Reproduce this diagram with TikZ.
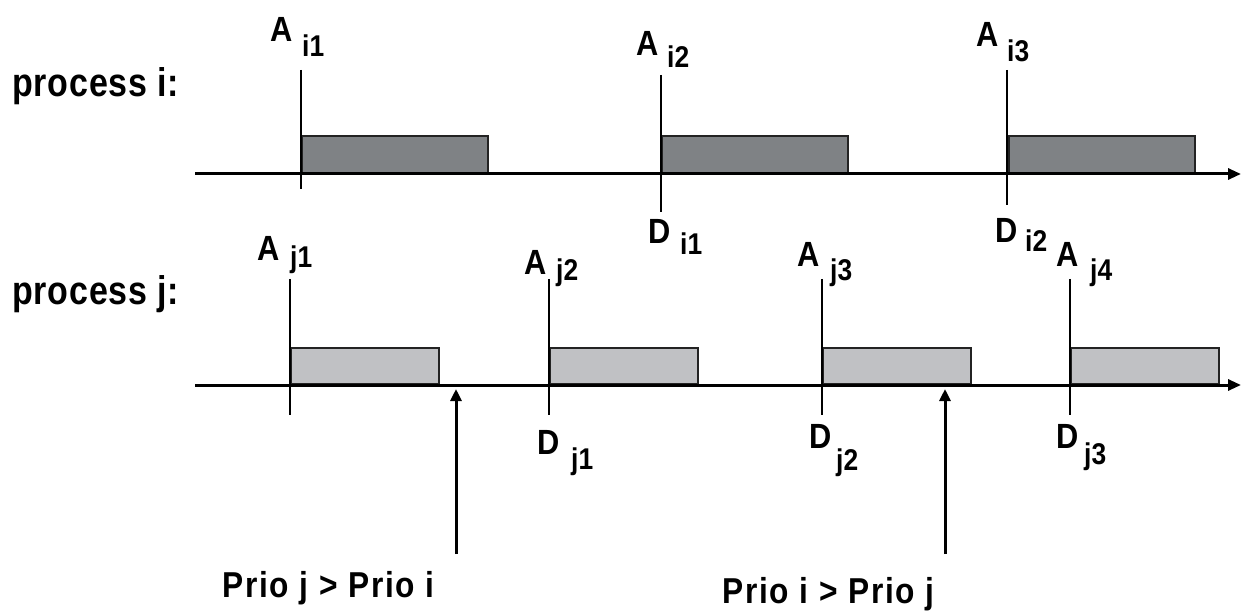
\documentclass[tikz,border=0pt]{standalone}
\usepackage{fontspec}
\setmainfont{Liberation Sans}
\newfontfamily\procfont{Liberation Sans}[FakeStretch=0.85,LetterSpace=2]
\newfontfamily\priofont{Liberation Sans}[FakeStretch=0.88,LetterSpace=5]
\newfontfamily\labfont{Liberation Sans}[FakeStretch=0.88]
\usetikzlibrary{arrows.meta}
\definecolor{darkbox}{RGB}{127,130,133}
\definecolor{lightbox}{RGB}{192,193,196}
\definecolor{edge}{RGB}{35,35,35}
\tikzset{
  timeaxis/.style={line width=3pt, draw=black, -{Triangle[length=13pt,width=11pt]}},
  tickline/.style={line width=2.5pt, draw=black},
  jobi/.style={draw=edge, line width=2pt, fill=darkbox, anchor=south west, minimum width=186pt, minimum height=37pt, inner sep=0pt},
  jobj/.style={draw=edge, line width=2pt, fill=lightbox, anchor=south west, minimum width=148pt, minimum height=36pt, inner sep=0pt},
  lab/.style={anchor=base west, inner sep=0pt, font=\labfont\bfseries\fontsize{35}{35}\selectfont},
  labsub/.style={anchor=base west, inner sep=0pt, font=\labfont\bfseries\fontsize{30}{30}\selectfont},
  proc/.style={anchor=base west, inner sep=0pt, font=\procfont\bfseries\fontsize{40}{40}\selectfont},
  prio/.style={anchor=base west, inner sep=0pt, font=\priofont\bfseries\fontsize{36}{36}\selectfont},
  prioarrow/.style={line width=3pt, draw=black, -{Triangle[length=12pt,width=11pt]}}
}
\begin{document}
\begin{tikzpicture}[x=1pt,y=-1pt]
\useasboundingbox (0,0) rectangle (1242,612);
% process labels
\node[proc] (pi) at (12,97) {process i:};
\node[proc] (pj) at (12,305) {process j:};
% jobs of process i
\node[jobi] (bi1) at (301,174) {};
\node[jobi] (bi2) at (661,174) {};
\node[jobi] (bi3) at (1008,174) {};
% jobs of process j
\node[jobj] (bj1) at (290,385) {};
\node[jobj] (bj2) at (549,385) {};
\node[jobj] (bj3) at (822,385) {};
\node[jobj] (bj4) at (1070,385) {};
% axes
\coordinate (ia0) at (195,174); \coordinate (ia1) at (1241,174);
\coordinate (ja0) at (195,385); \coordinate (ja1) at (1241,385);
\draw[timeaxis] (ia0) -- (ia1);
\draw[timeaxis] (ja0) -- (ja1);
% ticks process i
\coordinate (ti1a) at (301,70);  \coordinate (ti1b) at (301,189);
\coordinate (ti2a) at (661,75);  \coordinate (ti2b) at (661,212);
\coordinate (ti3a) at (1007,70); \coordinate (ti3b) at (1007,205);
\draw[tickline] (ti1a) -- (ti1b);
\draw[tickline] (ti2a) -- (ti2b);
\draw[tickline] (ti3a) -- (ti3b);
% ticks process j
\coordinate (tj1a) at (290,279);  \coordinate (tj1b) at (290,415);
\coordinate (tj2a) at (549,279);  \coordinate (tj2b) at (549,415);
\coordinate (tj3a) at (822,279);  \coordinate (tj3b) at (822,415);
\coordinate (tj4a) at (1070,279); \coordinate (tj4b) at (1070,415);
\draw[tickline] (tj1a) -- (tj1b);
\draw[tickline] (tj2a) -- (tj2b);
\draw[tickline] (tj3a) -- (tj3b);
\draw[tickline] (tj4a) -- (tj4b);
% labels process i
\node[lab] (ai1) at (270,42) {A}; \node[labsub] (ai1s) at (302,57) {i1};
\node[lab] (ai2) at (636,56) {A}; \node[labsub] (ai2s) at (667,68) {i2};
\node[lab] (ai3) at (976,47) {A}; \node[labsub] (ai3s) at (1007,62) {i3};
\node[lab] (di1) at (648,244) {D}; \node[labsub] (di1s) at (680,255) {i1};
\node[lab] (di2) at (995,243) {D}; \node[labsub] (di2s) at (1025,252) {i2};
% labels process j
\node[lab] (aj1) at (257,261) {A}; \node[labsub] (aj1s) at (290,268) {j1};
\node[lab] (aj2) at (524,275) {A}; \node[labsub] (aj2s) at (556,281) {j2};
\node[lab] (aj3) at (797,267) {A}; \node[labsub] (aj3s) at (830,280) {j3};
\node[lab] (aj4) at (1056,267) {A}; \node[labsub] (aj4s) at (1090,280) {j4};
\node[lab] (dj1) at (537,454) {D}; \node[labsub] (dj1s) at (571,469) {j1};
\node[lab] (dj2) at (809,448) {D}; \node[labsub] (dj2s) at (836,470) {j2};
\node[lab] (dj3) at (1056,448) {D}; \node[labsub] (dj3s) at (1084,464) {j3};
% priority arrows
\coordinate (pa1b) at (456,554); \coordinate (pa1t) at (456,389);
\coordinate (pa2b) at (945,554); \coordinate (pa2t) at (945,389);
\draw[prioarrow] (pa1b) -- (pa1t);
\draw[prioarrow] (pa2b) -- (pa2t);
\node[prio] (prio1) at (222,597) {Prio j > Prio i};
\node[prio] (prio2) at (722,603) {Prio i > Prio j};
\end{tikzpicture}
\end{document}
